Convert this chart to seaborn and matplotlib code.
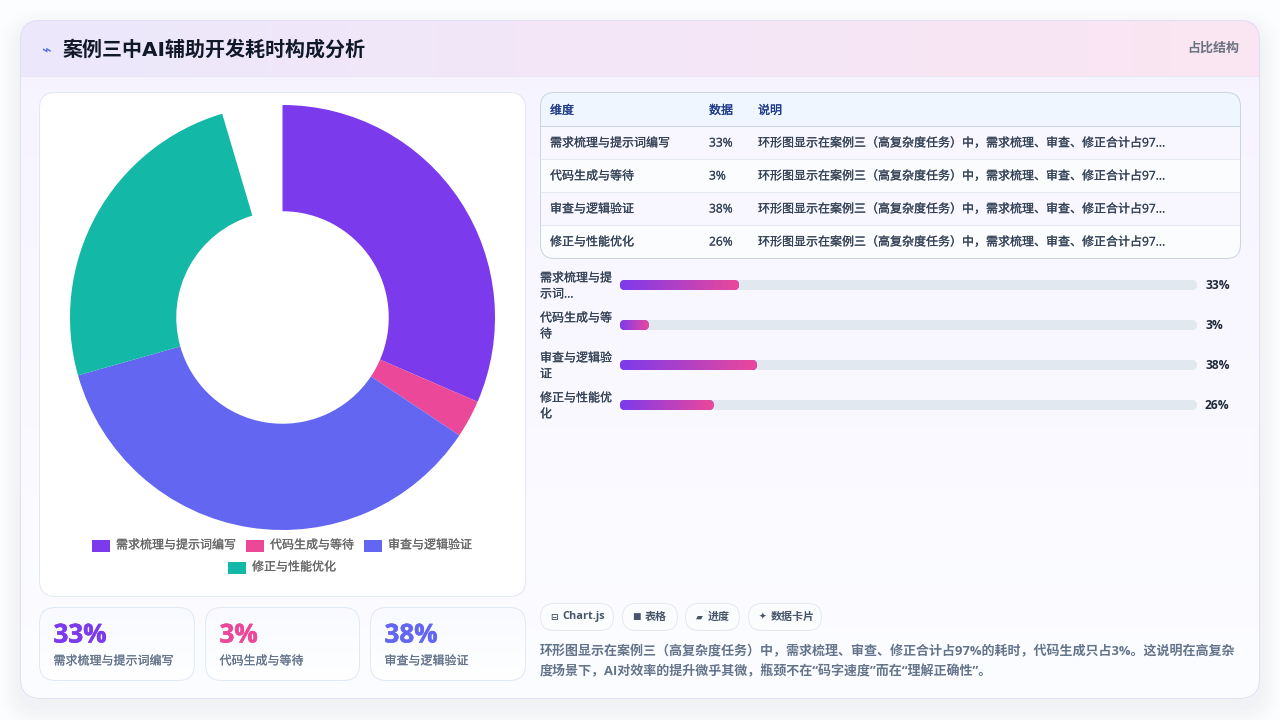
"""Case 3 AI-assisted development time breakdown: dashboard card with donut, table and progress bars."""

import numpy as np
import pandas as pd
import matplotlib.pyplot as plt
import matplotlib.patheffects as pe
from matplotlib.colors import LinearSegmentedColormap
from matplotlib.patches import FancyBboxPatch, Rectangle
import seaborn as sns

# data
CATEGORIES = ['需求梳理与提示词编写', '代码生成与等待', '审查与逻辑验证', '修正与性能优化']
VALUES = [33, 3, 38, 26]
UNFILLED = [4.8]  # empty part of the ring at the top
COLORS = ['#7C3AED', '#EC4899', '#6366F1', '#14B8A6']
BAR_LABELS = [['需求梳理与提', '示词...'], ['代码生成与等', '待'], ['审查与逻辑验', '证'], ['修正与性能优', '化']]
BAR_SCALE_MAX = 160
BAR_MIN_WIDTH = 8
TABLE_HEADER = ['维度', '数据', '说明']
TABLE_NOTE = '环形图显示在案例三（高复杂度任务）中，需求梳理、审查、修正合计占97...'
CHIPS = ['Chart.js', '表格', '进度', '数据卡片']
CHIP_ICONS = ['⊟', '■', '▰', '✦']
SUMMARY = ['环形图显示在案例三（高复杂度任务）中，需求梳理、审查、修正合计占97%的耗时，代码生成只占3%。这说明在高复杂',
           '度场景下，AI对效率的提升微乎其微，瓶颈不在“码字速度”而在“理解正确性”。']

FONTS = ['Open Sans', 'Noto Sans CJK SC', 'DejaVu Sans']
W, H = 1280, 720
LW = 0.72  # one pixel

sns.set_theme(style='white')
plt.rcParams['font.family'] = FONTS

fig = plt.figure(figsize=(W / 100, H / 100), dpi=100, facecolor='#FCFDFF')
bg = fig.add_axes([0, 0, 1, 1], zorder=0)
bg.set_axis_off()
bg.set_xlim(0, W)
bg.set_ylim(H, 0)


def px(size):
    return size * 0.72


def rbox(x0, y0, x1, y1, r, fc='white', ec='none', lw=LW, z=2, alpha=None):
    box = FancyBboxPatch((x0 + r, y0 + r), x1 - x0 - 2 * r, y1 - y0 - 2 * r,
                         boxstyle=f'round,pad={r},rounding_size={r}',
                         fc=fc, ec=ec, lw=lw, zorder=z, alpha=alpha)
    bg.add_patch(box)
    return box


def gradient(x0, y0, x1, y1, c0, c1, clip=None, z=3, vertical=False):
    cmap = LinearSegmentedColormap.from_list('g', [c0, c1])
    ramp = np.linspace(0, 1, 256)
    ramp = ramp.reshape(-1, 1) if vertical else ramp.reshape(1, -1)
    im = bg.imshow(ramp, extent=(x0, x1, y1, y0), cmap=cmap, aspect='auto', zorder=z,
                   interpolation='bilinear', origin='upper')
    if clip is not None:
        im.set_clip_path(clip)
    return im


def label(x, y, s, size=12, color='#334155', weight='normal', ha='left', z=8, thick=0.0, family=FONTS):
    t = bg.text(x, y, s, fontsize=px(size), color=color, fontweight=weight, ha=ha,
                va='center', zorder=z, family=family)
    if thick:
        t.set_path_effects([pe.withStroke(linewidth=thick, foreground=color)])
    return t


# card shadow and body
for grow, a in zip(range(26, 0, -2), np.linspace(0.001, 0.006, 13)):
    rbox(20 - grow, 20 - grow + 10, 1260 + grow, 699 + grow + 10, 20 + grow, fc='#64748B', alpha=a, z=1)
card = rbox(20, 20, 1260, 699, 20, fc='#FAF9FF', z=2)
gradient(20, 20, 1260, 699, '#F6F3FF', '#FCFDFF', clip=card, z=2.1, vertical=True)
header = gradient(20, 20, 1260, 76, '#ECE8FC', '#FBE5F2', clip=card, z=2.2)
bg.plot([20, 1260], [75.5, 75.5], color='#E6E6F4', lw=LW, zorder=2.3)
rbox(20.5, 20.5, 1259.5, 698.5, 20, fc='none', ec='#E2DEF4', z=2.4)

label(41, 50, '⌁', size=16, color='#4F6BE0', weight='bold', family=['DejaVu Sans'])
label(63, 49.5, '案例三中AI辅助开发耗时构成分析', size=20, color='#111827', weight='bold',
      family=['DejaVu Sans', 'Noto Sans CJK SC'])
label(1239, 48, '占比结构', size=13, color='#6B7280', weight='bold', ha='right')

# donut panel
rbox(39.5, 92.5, 525.5, 596.5, 16, fc='white', ec='#E2E8F0', z=3)
cx, cy, R = 282.5, 317.5, 212.5
pie_ax = fig.add_axes([(cx - R) / W, 1 - (cy + R) / H, 2 * R / W, 2 * R / H], zorder=2)
pie_ax.patch.set_alpha(0)
pie_ax.pie(VALUES + UNFILLED, colors=COLORS + ['white'], startangle=90, counterclock=False,
           radius=1, wedgeprops={'width': 0.5, 'linewidth': 0})
pie_ax.patches[-1].set_visible(False)
pie_ax.set_xlim(-1, 1)
pie_ax.set_ylim(-1, 1)

legend_pos = [(92, 545.5), (246, 545.5), (364, 545.5), (228, 567.5)]
for (lx, ly), name, col in zip(legend_pos, CATEGORIES, COLORS):
    bg.add_patch(Rectangle((lx, ly - 6), 18, 12.5, fc=col, ec='none', zorder=5))
    label(lx + 24, ly - 0.5, name, size=12, color='#666666', thick=0.12)

# stat cards
stat_x = [(39.5, 194.5), (205.5, 359.5), (370.5, 525.5)]
for (x0, x1), val, name, col in zip(stat_x, VALUES, CATEGORIES, COLORS):
    box = rbox(x0, 607.5, x1, 680.5, 16, fc='white', ec='none', z=3)
    gradient(x0, 607, x1, 681, '#F8FAFF', '#FFFFFF', clip=box, z=3.1, vertical=True)
    rbox(x0, 607.5, x1, 680.5, 16, fc='none', ec='#E0E9F5', z=3.2)
    label(x0 + 14, 635, f'{val}%', size=26, color=col, weight='bold', thick=0.4)
    label(x0 + 14, 661, name, size=12, color='#64748B', thick=0.12)

# table
tbl = rbox(540.5, 92.5, 1240.5, 258.5, 14, fc='#FAFBFE', z=3)
hdr_rect = Rectangle((540, 92), 701, 34, fc='#EFF6FF', ec='none', zorder=3.1)
bg.add_patch(hdr_rect)
hdr_rect.set_clip_path(tbl)
col_x = [550, 709, 758]
for x, name in zip(col_x, TABLE_HEADER):
    label(x, 110.5, name, size=12, color='#1E3A8A', thick=0.2)
row_tops = [126, 159, 192, 225]
for i, (top, name, val) in enumerate(zip(row_tops, CATEGORIES, VALUES)):
    r = Rectangle((540, top), 701, 33, fc='#F8F6FF' if i % 2 == 0 else '#FAFCFD', ec='none', zorder=3.1)
    bg.add_patch(r)
    r.set_clip_path(tbl)
    bg.plot([541, 1240], [top - 0.5, top - 0.5], color='#CBD5E1' if i == 0 else '#E5EAF2', lw=LW, zorder=3.2)
    label(col_x[0], top + 17, name, thick=0.12)
    label(col_x[1], top + 17, f'{val}%', thick=0.12)
    label(col_x[2], top + 17, TABLE_NOTE, thick=0.12)
rbox(540.5, 92.5, 1240.5, 258.5, 14, fc='none', ec='#CBD5E1', z=3.3)

# progress bars, drawn by seaborn then swapped for rounded gradient pills
df = pd.DataFrame({'name': CATEGORIES, 'value': VALUES})
df['width'] = df['value'].clip(lower=BAR_MIN_WIDTH)
df['track'] = BAR_SCALE_MAX
bar_ax = fig.add_axes([620 / W, 1 - 425 / H, 577 / W, 160 / H], zorder=1)
sns.barplot(data=df, x='track', y='name', order=CATEGORIES, color='#E2E8F0', width=0.25, ax=bar_ax)
sns.barplot(data=df, x='width', y='name', order=CATEGORIES, color='#7C3AED', width=0.25, ax=bar_ax)
bar_ax.set_xlim(0, BAR_SCALE_MAX)
bar_ax.set_ylim(3.5, -0.5)
bar_ax.set_axis_off()

to_px = bar_ax.transData + bg.transData.inverted()
n = len(CATEGORIES)
for i, patch in enumerate(bar_ax.patches):
    x, y, w, h = patch.get_x(), patch.get_y(), patch.get_width(), patch.get_height()
    (x0, y0), (x1, y1) = to_px.transform([(x, y), (x + w, y + h)])
    y0, y1 = min(y0, y1), max(y0, y1)
    patch.set_visible(False)
    r = (y1 - y0) / 2
    if i < n:
        rbox(x0, y0, x1, y1, r, fc='#E2E8F0', z=4)
    else:
        pill = rbox(x0, y0, x1, y1, r, fc='#7C3AED', z=4.1)
        gradient(x0, y0, x1, y1, '#7C3AED', '#EC4899', clip=pill, z=4.2)

for (l1, l2), val, yc in zip(BAR_LABELS, VALUES, [285, 325, 365, 405]):
    label(540, yc - 7, l1, thick=0.12)
    label(540, yc + 9, l2, thick=0.12)
    label(1205, yc + 0.5, f'{val}%', size=12, color='#1E293B', weight='bold')

# chips
chip_x = [(540.5, 613.5), (622.5, 677.5), (685.5, 739.5), (748.5, 821.5)]
for (x0, x1), icon, name in zip(chip_x, CHIP_ICONS, CHIPS):
    rbox(x0, 603.5, x1, 630.5, 13.5, fc='#FBFCFE', ec='#E4E9F1', z=4)
    label(x0 + 10, 617, icon, size=9, color='#475569', weight='bold', family=['DejaVu Sans'])
    label(x0 + 22, 617, name, size=11, color='#475569', weight='bold')

for y, line in zip([651.5, 671.5], SUMMARY):
    label(540, y, line, size=13, color='#64748B', weight='bold')

bg.set_xlim(0, W)
bg.set_ylim(H, 0)
fig.savefig('out.png', dpi=100, facecolor=fig.get_facecolor())
